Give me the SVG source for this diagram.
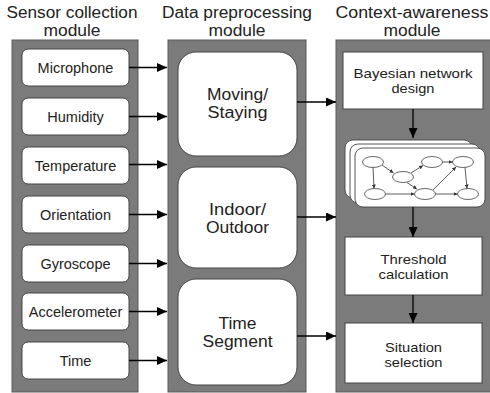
<svg xmlns="http://www.w3.org/2000/svg" width="490" height="393" viewBox="0 0 490 393">
<style>
text{font-family:"Liberation Sans",Arial,sans-serif;fill:#222;text-anchor:middle}
.hdr{font-size:16px}
.sen{font-size:14.5px}
.mid{font-size:16px}
.ctx{font-size:13.5px}
.panel{fill:#7b7b7b;stroke:#5a5a5a;stroke-width:1}
.sbox{fill:#fff;stroke:#444;stroke-width:1}
.card{fill:#fff;stroke:#444;stroke-width:0.9}
.ell{fill:#fff;stroke:#444;stroke-width:0.8}
.conn{stroke:#000;stroke-width:1.3;fill:none}
.econn{stroke:#333;stroke-width:0.8;fill:none}
</style>
<defs>
<marker id="ah" markerUnits="userSpaceOnUse" markerWidth="10" markerHeight="9" refX="10" refY="4.5" orient="auto">
<path d="M0,0 L10,4.5 L0,9 z" fill="#000"/>
</marker>
<marker id="sh" markerUnits="userSpaceOnUse" markerWidth="4" markerHeight="4" refX="4" refY="2" orient="auto">
<path d="M0,0 L4,2 L0,4 z" fill="#333"/>
</marker>
</defs>

<g id="headers">
<text class="hdr" x="72" y="18" textLength="131" lengthAdjust="spacingAndGlyphs">Sensor collection</text>
<text class="hdr" x="72" y="36" textLength="57" lengthAdjust="spacingAndGlyphs">module</text>
<text class="hdr" x="237" y="18" textLength="150" lengthAdjust="spacingAndGlyphs">Data preprocessing</text>
<text class="hdr" x="237" y="36" textLength="57" lengthAdjust="spacingAndGlyphs">module</text>
<text class="hdr" x="412" y="18" textLength="153" lengthAdjust="spacingAndGlyphs">Context-awareness</text>
<text class="hdr" x="412" y="36" textLength="57" lengthAdjust="spacingAndGlyphs">module</text>
</g>

<g id="panels">
<rect class="panel" x="12" y="40" width="126" height="352"/>
<rect class="panel" x="168" y="40" width="138" height="352"/>
<rect class="panel" x="336" y="40" width="160" height="352"/>
</g>

<g id="sensor-microphone"><rect class="sbox" x="22" y="49" width="107" height="37" rx="6"/><text class="sen" x="75.5" y="72.5">Microphone</text></g>
<g id="sensor-humidity"><rect class="sbox" x="22" y="98" width="107" height="37" rx="6"/><text class="sen" x="75.5" y="121.5">Humidity</text></g>
<g id="sensor-temperature"><rect class="sbox" x="22" y="147" width="107" height="37" rx="6"/><text class="sen" x="75.5" y="170.5">Temperature</text></g>
<g id="sensor-orientation"><rect class="sbox" x="22" y="196" width="107" height="37" rx="6"/><text class="sen" x="75.5" y="219.5">Orientation</text></g>
<g id="sensor-gyroscope"><rect class="sbox" x="22" y="245" width="107" height="37" rx="6"/><text class="sen" x="75.5" y="268.5">Gyroscope</text></g>
<g id="sensor-accelerometer"><rect class="sbox" x="22" y="293" width="107" height="37" rx="6"/><text class="sen" x="75.5" y="316.5">Accelerometer</text></g>
<g id="sensor-time"><rect class="sbox" x="22" y="342" width="107" height="37" rx="6"/><text class="sen" x="75.5" y="365.5">Time</text></g>

<g id="pre-moving"><rect class="sbox" x="178" y="52" width="119" height="104" rx="18"/><text class="mid" x="237.5" y="99.5" textLength="61" lengthAdjust="spacingAndGlyphs">Moving/</text><text class="mid" x="237.5" y="117.5" textLength="60" lengthAdjust="spacingAndGlyphs">Staying</text></g>
<g id="pre-indoor"><rect class="sbox" x="178" y="167" width="119" height="101" rx="18"/><text class="mid" x="237.5" y="214.5" textLength="57" lengthAdjust="spacingAndGlyphs">Indoor/</text><text class="mid" x="237.5" y="232.5" textLength="63" lengthAdjust="spacingAndGlyphs">Outdoor</text></g>
<g id="pre-time"><rect class="sbox" x="178" y="279" width="119" height="106" rx="18"/><text class="mid" x="237.5" y="328.5" textLength="38" lengthAdjust="spacingAndGlyphs">Time</text><text class="mid" x="237.5" y="346.5" textLength="70" lengthAdjust="spacingAndGlyphs">Segment</text></g>

<g id="ctx-bayesian"><rect class="sbox" x="343" y="52" width="140" height="57"/><text class="ctx" x="413" y="77.7" textLength="119" lengthAdjust="spacingAndGlyphs">Bayesian network</text><text class="ctx" x="413" y="92.9" textLength="43" lengthAdjust="spacingAndGlyphs">design</text></g>

<g id="ctx-network">
<rect class="card" x="345" y="140" width="127" height="58" rx="8"/>
<rect class="card" x="350" y="144" width="130" height="59" rx="8"/>
<rect class="card" x="355" y="148" width="130" height="59" rx="8"/>
<ellipse class="ell" cx="373" cy="162" rx="10.5" ry="5.5"/>
<ellipse class="ell" cx="403" cy="177" rx="10.5" ry="5.5"/>
<ellipse class="ell" cx="432" cy="162" rx="10.5" ry="5.5"/>
<ellipse class="ell" cx="463" cy="162" rx="10.5" ry="5.5"/>
<ellipse class="ell" cx="375" cy="194" rx="10.5" ry="5.5"/>
<ellipse class="ell" cx="425" cy="194" rx="10.5" ry="5.5"/>
<ellipse class="ell" cx="468" cy="194" rx="10.5" ry="5.5"/>
<g id="net-edges">
<line class="econn" x1="373" y1="167.5" x2="374" y2="188.5" marker-end="url(#sh)"/>
<line class="econn" x1="382" y1="165" x2="393.5" y2="173" marker-end="url(#sh)"/>
<line class="econn" x1="411" y1="173" x2="423" y2="165.5" marker-end="url(#sh)"/>
<line class="econn" x1="442.5" y1="162" x2="452.5" y2="162" marker-end="url(#sh)"/>
<line class="econn" x1="407" y1="182.5" x2="417" y2="189" marker-end="url(#sh)"/>
<line class="econn" x1="385.5" y1="194" x2="414.5" y2="194" marker-end="url(#sh)"/>
<line class="econn" x1="433" y1="190" x2="456" y2="167" marker-end="url(#sh)"/>
<line class="econn" x1="435.5" y1="194" x2="457.5" y2="194" marker-end="url(#sh)"/>
<line class="econn" x1="465" y1="167.5" x2="467" y2="188.5" marker-end="url(#sh)"/>
</g>
</g>

<g id="ctx-threshold"><rect class="sbox" x="345" y="237" width="137" height="58"/><text class="ctx" x="413.5" y="263.6" textLength="66" lengthAdjust="spacingAndGlyphs">Threshold</text><text class="ctx" x="413.5" y="278.8" textLength="70" lengthAdjust="spacingAndGlyphs">calculation</text></g>
<g id="ctx-situation"><rect class="sbox" x="345" y="323" width="137" height="60"/><text class="ctx" x="413.5" y="351.7" textLength="57" lengthAdjust="spacingAndGlyphs">Situation</text><text class="ctx" x="413.5" y="366.9" textLength="58" lengthAdjust="spacingAndGlyphs">selection</text></g>

<g id="connectors">
<line class="conn" x1="129" y1="67.5" x2="167" y2="67.5" marker-end="url(#ah)"/>
<line class="conn" x1="129" y1="116.5" x2="167" y2="116.5" marker-end="url(#ah)"/>
<line class="conn" x1="129" y1="164.5" x2="167" y2="164.5" marker-end="url(#ah)"/>
<line class="conn" x1="129" y1="214.5" x2="167" y2="214.5" marker-end="url(#ah)"/>
<line class="conn" x1="129" y1="263.5" x2="167" y2="263.5" marker-end="url(#ah)"/>
<line class="conn" x1="129" y1="311.5" x2="167" y2="311.5" marker-end="url(#ah)"/>
<line class="conn" x1="129" y1="360.5" x2="167" y2="360.5" marker-end="url(#ah)"/>
<line class="conn" x1="297" y1="102" x2="336" y2="102" marker-end="url(#ah)"/>
<line class="conn" x1="297" y1="217" x2="336" y2="217" marker-end="url(#ah)"/>
<line class="conn" x1="297" y1="336" x2="336" y2="336" marker-end="url(#ah)"/>
<line class="conn" x1="413" y1="109" x2="413" y2="138" marker-end="url(#ah)"/>
<line class="conn" x1="413" y1="207" x2="413" y2="237" marker-end="url(#ah)"/>
<line class="conn" x1="413" y1="295" x2="413" y2="323" marker-end="url(#ah)"/>
</g>
</svg>
